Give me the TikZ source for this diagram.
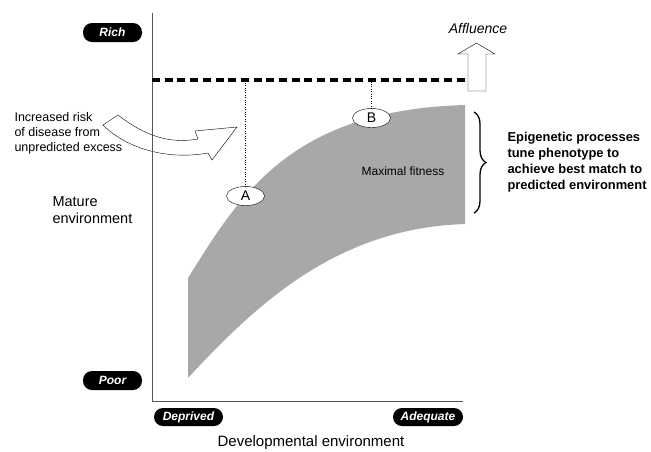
\documentclass[tikz,border=0pt]{standalone}
\usepackage{fontspec}
\setmainfont{Liberation Sans}
\usetikzlibrary{shapes.geometric,decorations.pathreplacing}
\definecolor{fitgray}{RGB}{168,168,168}
\definecolor{axisgray}{RGB}{85,85,85}

\tikzset{
  pill/.style={fill=black, rounded corners=9pt, text=white, inner sep=0pt,
    font=\fontsize{12}{14}\selectfont\bfseries\itshape},
  pointlabel/.style={draw, ellipse, fill=white, inner sep=0pt, minimum width=38pt,
    minimum height=19pt, font=\fontsize{14}{16}\selectfont},
  txt/.style={align=left, anchor=west, font=\fontsize{12.5}{15}\selectfont}
}

\begin{document}
\begin{tikzpicture}[x=1pt,y=-1pt]
  \useasboundingbox (0,0) rectangle (651,451);

  % Draw the band of maximal fitness
  \fill[fitgray] (188,278) .. controls (240,195) and (290,110) .. (465,105)
    -- (465,224) .. controls (340,228) and (260,300) .. (188,378) -- cycle;
  \node (fit) at (403,171) {\fontsize{12}{14}\selectfont Maximal fitness};

  % Draw the curved arrow
  \draw[fill=white] (118,115) .. controls (150,140) and (175,143) .. (198,139) -- (195,131) -- (237,127)
    -- (212,160) -- (208,153) .. controls (170,160) and (128,150) .. (103,125) -- cycle;

  % Draw the axes
  \coordinate (top) at (152,13);
  \coordinate (o) at (152,401);
  \coordinate (right) at (463,401);
  \draw[axisgray, line width=1pt] (top) -- (o) -- (right);

  % Draw the dashed line and the affluence arrow
  \coordinate (dl) at (152,80);
  \coordinate (dr) at (465,80);
  \draw[line width=3.3pt, dash pattern=on 8pt off 4.7pt] (dl) -- (dr);
  \draw[fill=white] (468,91) -- (468,54) -- (458,54) -- (476.5,43) -- (495,54) -- (486,54) -- (486,91) -- cycle;
  \node (affl) at (478,28) {\fontsize{14}{16}\selectfont\itshape Affluence};

  % Add points A and B
  \node[pointlabel] (A) at (245.5,196) {A};
  \node[pointlabel] (B) at (371.5,118) {B};
  \draw[dotted, thin] (A.north) -- (A.north |- dl);
  \draw[dotted, thin] (B.north) -- (B.north |- dl);

  % Draw the brace
  \draw[decorate, decoration={brace, amplitude=12pt}, line width=1.3pt] (474,112) -- (474,213);
  \node[txt, font=\fontsize{12.9}{16}\selectfont\bfseries] (epi) at (504,162)
    {Epigenetic processes\\tune phenotype to\\achieve best match to\\predicted environment};

  % Add labels
  \node[txt] (risk) at (11,133) {Increased risk\\of disease from\\unpredicted excess};
  \node[txt, font=\fontsize{14.5}{16.5}\selectfont] (mature) at (49,210) {Mature\\environment};
  \node[pill, minimum width=59pt, minimum height=19pt] (rich) at (112.5,32.5) {Rich};
  \node[pill, minimum width=59pt, minimum height=19pt] (poor) at (112.5,380.5) {Poor};
  \node[pill, minimum width=69pt, minimum height=18pt] (depr) at (188.5,417) {Deprived};
  \node[pill, minimum width=70pt, minimum height=18pt] (adeq) at (428,417) {Adequate};
  \node (dev) at (311,443) {\fontsize{15}{17}\selectfont Developmental environment};
\end{tikzpicture}
\end{document}
